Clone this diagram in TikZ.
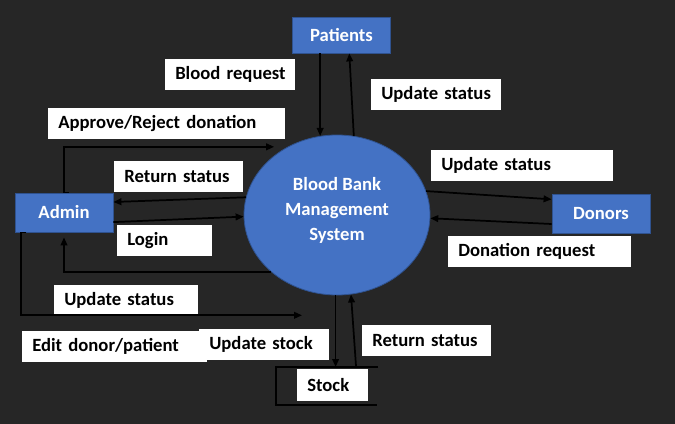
\documentclass[tikz,border=0pt]{standalone}
\usepackage{fontspec}
\setmainfont{Carlito}
\usetikzlibrary{arrows.meta,shapes.geometric}

\definecolor{bgdark}{HTML}{262626}
\definecolor{boxblue}{HTML}{4472C4}
\definecolor{edgeblue}{HTML}{2F528F}

\tikzset{
  entity/.style={draw=edgeblue, line width=0.6pt, fill=boxblue, text=white,
    minimum width=73.5pt, minimum height=28pt, inner sep=0pt},
  process/.style={ellipse, draw=edgeblue, line width=0.6pt, fill=boxblue,
    minimum width=139.5pt, minimum height=120pt, inner sep=0pt},
  lbl/.style={fill=white, text=black, anchor=north west, inner xsep=0pt,
    inner ysep=0pt, minimum height=23.25pt, text width=#1, align=left,
    execute at begin node=\hspace*{7.5pt}},
  flow/.style={line width=1.3pt, -{Triangle[length=6pt,width=5pt]}},
  store/.style={line width=1.3pt}
}

\begin{document}
\begin{tikzpicture}[x=0.75pt, y=-0.75pt, font=\fontsize{14}{18.75}\selectfont\bfseries]
    \useasboundingbox[fill=bgdark] (0,0) rectangle (675,424);

    \node[lbl=97.5pt] (lReq) at (165,59) {Blood request};
    \node[lbl=97.5pt] (lUpdP) at (371,79) {Update status};
    \node[lbl=177.75pt] (lAppr) at (48,108) {Approve/Reject donation};
    \node[lbl=96.75pt] (lRetA) at (114,161) {Return status};
    \node[lbl=136.5pt] (lUpdD) at (431,150) {Update status};
    \node[lbl=71.25pt] (lLogin) at (117,225) {Login};
    \node[lbl=137.25pt] (lDon) at (448,236) {Donation request};
    \node[lbl=108pt] (lUpdA) at (54,285) {Update status};
    \node[lbl=138.75pt] (lEdit) at (22,331) {Edit donor/patient};
    \node[lbl=97.5pt] (lUpdS) at (199,329) {Update stock};
    \node[lbl=96.75pt] (lRetS) at (362,325) {Return status};
    \node[lbl=53.25pt, minimum height=23.5pt] (stock) at (297,369) {Stock};

    \node[entity, minimum height=27pt] (patients) at (341.5,35) {Patients};
    \node[entity, minimum height=29.25pt] (admin) at (64,212.5) {Admin};
    \node[entity, minimum height=29.25pt] (donors) at (601,213.5) {Donors};
    \node[process, label={[text=white, align=center, yshift=3.75pt]center:Blood Bank\\Management\\System}] (bbms) at (337,215) {};

    \coordinate (stTL) at (276,367);
    \coordinate (stTR) at (378,367);
    \coordinate (stBL) at (276,405);
    \coordinate (stBR) at (377,405);
    \coordinate (stRet) at (356,366);
    \coordinate (updEnd) at (302,315.3);

    \draw[store] (stTR) -- (stTL) -- (stBL) -- (stBR);

    \draw[flow] (patients.south -| bbms.102) -- (bbms.102);
    \draw[flow] (bbms.78) -- (patients.-67);

    \draw[flow] ([xshift=3.75pt]admin.north) -- (admin.north) |- ([xshift=-10pt]bbms.126);
    \draw[flow] (bbms.169) -- (admin.12);
    \draw[flow] (admin.-11) -- (bbms.181);
    \draw[flow, shorten >=3.75pt] (bbms.221) -| (admin.south);
    \draw[flow] ([xshift=3.75pt]admin.205) -- (admin.205) |- (updEnd);

    \draw[flow] (bbms.15) -- (donors.164);
    \draw[flow] (donors.192) -- (bbms.-2);

    \draw[flow] (bbms.-91) -- (bbms.-91 |- stTL);
    \draw[flow] (stRet) -- (bbms.-80);
\end{tikzpicture}
\end{document}
